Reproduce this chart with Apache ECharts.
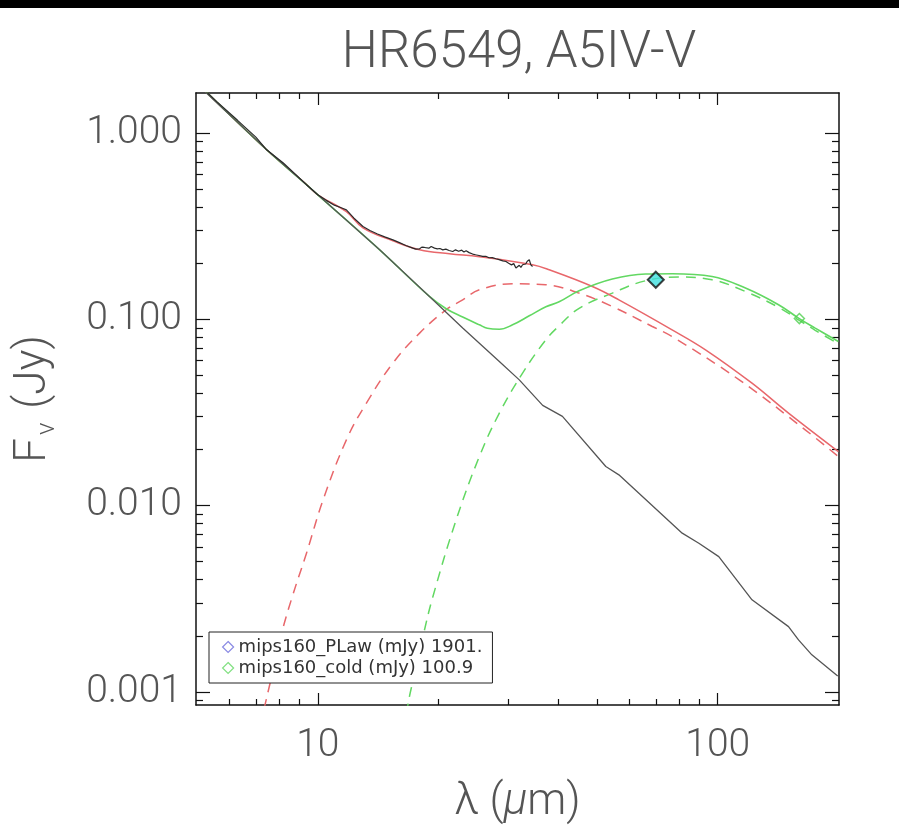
<!DOCTYPE html>
<html>
<head>
<meta charset="utf-8">
<script src="https://cdn.jsdelivr.net/npm/echarts@6/dist/echarts.min.js"></script>
<style>
html,body{margin:0;padding:0;background:#fff;}
#chart{width:899px;height:840px;}
</style>
</head>
<body>
<div id="chart"></div>
<script>
// ---------------- data ----------------
const titleText = 'HR6549, A5IV-V';
const xMajorTicks = [10, 100];
const xMinorTicks = [6, 7, 8, 9, 20, 30, 40, 50, 60, 70, 80, 90];
const yMajorTicks = [0.001, 0.01, 0.1, 1];
const yMinorTicks = [0.0009, 0.002, 0.003, 0.004, 0.005, 0.006, 0.007, 0.008, 0.009,
  0.02, 0.03, 0.04, 0.05, 0.06, 0.07, 0.08, 0.09, 0.2, 0.3, 0.4, 0.5, 0.6, 0.7, 0.8, 0.9];

// stellar photosphere
const photLam  = [5, 5.26, 7.45, 9.37, 10, 14.28, 19.02, 23.03, 28.44, 31.9, 36.5, 40.9, 52.5, 56.6, 81.5, 89.7, 100.6, 121.8, 150.3, 159.2, 171.9, 199.5];
const photFlux = [1.85, 1.646, 0.813, 0.528, 0.466, 0.236, 0.1326, 0.0897, 0.0593, 0.0473, 0.0345, 0.0301, 0.0162, 0.01462, 0.00711, 0.00628, 0.00532, 0.00312, 0.00224, 0.0019, 0.00158, 0.001217];

// observed spectrum
const irsLam  = [5.0, 5.6, 6.3, 7.0, 7.45, 8.2, 8.8, 9.37, 10.0, 10.5, 11.0, 11.4, 11.79, 12.3, 12.97, 13.5, 14.1, 14.7, 15.41, 16.0, 16.6, 17.29, 17.6, 17.97, 18.2, 18.49, 18.7, 18.95, 19.21, 19.4, 19.58, 19.9, 20.2, 20.54, 20.9, 21.3, 21.75, 22.1, 22.5, 22.9, 23.2, 23.49, 23.9, 24.39, 24.8, 25.3, 25.84, 26.3, 26.8, 27.3, 27.9, 28.4, 29.0, 29.55, 30.0, 30.5, 30.9, 31.29, 31.6, 31.9, 32.2, 32.51, 32.8, 33.1, 33.4, 33.79, 34.1, 34.43];
const irsFlux = [1.85, 1.47, 1.17, 0.95, 0.813, 0.69, 0.60, 0.528, 0.466, 0.435, 0.41, 0.398, 0.387, 0.35, 0.315, 0.30, 0.287, 0.277, 0.267, 0.258, 0.249, 0.241, 0.238, 0.239, 0.244, 0.243, 0.247, 0.241, 0.246, 0.243, 0.241, 0.239, 0.240, 0.236, 0.238, 0.234, 0.2312, 0.236, 0.232, 0.235, 0.230, 0.2332, 0.228, 0.224, 0.222, 0.220, 0.2175, 0.218, 0.214, 0.2145, 0.2113, 0.209, 0.206, 0.2043, 0.200, 0.196, 0.199, 0.1884, 0.193, 0.195, 0.190, 0.1962, 0.194, 0.198, 0.205, 0.2087, 0.196, 0.1921];

// photosphere + warm (power-law) component
const redLam  = [5, 7.45, 9.37, 10, 11.79, 12.97, 15.41, 17.97, 21.34, 25.35, 34.43, 37.9, 48.6, 56.6, 76.9, 93.2, 121.8, 150.3, 200.3];
const redFlux = [1.85, 0.813, 0.53, 0.466, 0.378, 0.31, 0.264, 0.236, 0.2247, 0.2167, 0.1962, 0.1844, 0.150, 0.1272, 0.0878, 0.0686, 0.0454, 0.03135, 0.0195];
// warm component alone
const rdLam  = [7.2, 7.38, 7.59, 8.088, 8.614, 9.37, 10.31, 11.79, 13.23, 15.41, 17.97, 20.94, 23.03, 25.35, 30.69, 37.18, 45.02, 54.5, 68.6, 76.9, 113.2, 165.5, 200.3];
const rdFlux = [0.00066, 0.000851, 0.001102, 0.001997, 0.003194, 0.00555, 0.01073, 0.02254, 0.0355, 0.0582, 0.0843, 0.1125, 0.1272, 0.144, 0.155, 0.1532, 0.1382, 0.1171, 0.0915, 0.0808, 0.0473, 0.0255, 0.01833];

// photosphere + cold component
const gsLam  = [5, 7.45, 9.37, 10, 14.28, 19.02, 20.94, 23.03, 25.35, 26.54, 28.44, 30.69, 33.79, 37.18, 40.13, 45.02, 54.5, 66.0, 76.9, 96.8, 117.3, 141.9, 159.2, 175.3, 200.3];
const gsFlux = [1.85, 0.813, 0.528, 0.466, 0.236, 0.1326, 0.1139, 0.1028, 0.0934, 0.0895, 0.0884, 0.0934, 0.1044, 0.1167, 0.1241, 0.1422, 0.1644, 0.1749, 0.1755, 0.1698, 0.1471, 0.1197, 0.1015, 0.0897, 0.076];
// cold component alone
const gdLam  = [16.5, 16.8, 17.29, 18.31, 19.39, 22.18, 25.35, 28.44, 32.51, 37.18, 40.13, 45.02, 54.5, 66.0, 79.9, 96.8, 117.3, 141.9, 159.2, 175.3, 200.3];
const gdFlux = [0.00062, 0.000851, 0.001144, 0.001971, 0.003233, 0.00838, 0.01833, 0.03135, 0.0514, 0.0776, 0.0923, 0.1146, 0.1382, 0.161, 0.1685, 0.163, 0.141, 0.116, 0.0994, 0.0873, 0.0738];

// photometry
const mips70Point = [70, 0.163];
const legendNames  = ['mips160_PLaw', 'mips160_cold'];
const legendUnit   = '(mJy)';
const legendValues = ['1901.', '100.9'];
const mips160PLawPoint = [160, 1.901];
const mips160ColdPoint = [160, 0.1009];

// ---------------- chart ----------------
const zip = (a, b) => a.map((v, i) => [v, b[i]]);
const FONT = "Roboto, 'DejaVu Sans', sans-serif";
const FW = 300;
const TXT = '#555';
const RED = '#e8676b';
const GREEN = '#62d862';
const X_MIN = 4.96, X_MAX = 201, Y_MIN = 0.00085, Y_MAX = 1.64;
const frame = { show: true, onZero: false, lineStyle: { color: '#111', width: 1.5 } };
const tickStyle = { color: '#111', width: 1.2 };

function xAxisDef(pos, ticks, len, showLine) {
  return {
    type: 'log', logBase: 10, min: X_MIN, max: X_MAX, position: pos,
    axisLine: showLine ? frame : { show: false },
    axisTick: { show: true, inside: true, length: len, customValues: ticks, lineStyle: tickStyle },
    axisLabel: { show: false },
    splitLine: { show: false }, minorTick: { show: false }
  };
}
function yAxisDef(pos, ticks, len, showLine) {
  return {
    type: 'log', logBase: 10, min: Y_MIN, max: Y_MAX, position: pos,
    axisLine: showLine ? frame : { show: false },
    axisTick: { show: true, inside: true, length: len, customValues: ticks, lineStyle: tickStyle },
    axisLabel: { show: false },
    splitLine: { show: false }, minorTick: { show: false }
  };
}

const xBottom = xAxisDef('bottom', xMajorTicks, 12, true);
xBottom.axisLabel = {
  show: true, customValues: xMajorTicks, margin: 22,
  fontFamily: FONT, fontSize: 39, fontWeight: FW, color: TXT,
  formatter: v => String(Math.round(v))
};
xBottom.name = '{a|λ (}{b|μ}{a|m)}';
xBottom.nameLocation = 'middle';
xBottom.nameGap = 76;
xBottom.nameTextStyle = {
  rich: {
    a: { fontFamily: FONT, fontSize: 44, fontWeight: FW, color: TXT },
    b: { fontFamily: FONT, fontSize: 44, fontWeight: FW, fontStyle: 'italic', color: TXT }
  }
};

const yLeft = yAxisDef('left', yMajorTicks, 14, true);
yLeft.axisLabel = {
  show: true, customValues: yMajorTicks, margin: 14,
  fontFamily: FONT, fontSize: 39, fontWeight: FW, color: TXT,
  formatter: v => v.toFixed(3)
};
yLeft.name = '{a|F}{b|ν}{a| (Jy)}';
yLeft.nameLocation = 'middle';
yLeft.nameGap = 136;
yLeft.nameRotate = 90;
yLeft.nameTextStyle = {
  rich: {
    a: { fontFamily: FONT, fontSize: 44, fontWeight: FW, color: TXT },
    b: { fontFamily: FONT, fontSize: 26, fontWeight: FW, color: TXT, padding: [26, 3, 0, 3] }
  }
};

const option = {
  backgroundColor: '#ffffff',
  animation: false,
  title: {
    text: titleText, left: 514, top: 24, textAlign: 'center',
    textStyle: { fontFamily: FONT, fontSize: 51, fontWeight: FW, color: '#555' }
  },
  graphic: [{ type: 'rect', left: 0, top: 0, shape: { width: 899, height: 8 }, style: { fill: '#000' } }],
  grid: { left: 196, top: 93, right: 60, bottom: 135, containLabel: false },
  legend: {
    orient: 'vertical', left: 209, top: 632,
    padding: [6, 10, 6, 13], itemGap: 3, itemWidth: 11, itemHeight: 11,
    borderColor: '#222', borderWidth: 1, backgroundColor: '#fff',
    selectedMode: false,
    textStyle: { fontFamily: "'DejaVu Sans'", fontSize: 18, color: '#333', lineHeight: 18 },
    formatter: name => name + ' ' + legendUnit + ' ' + legendValues[legendNames.indexOf(name)],
    data: [
      { name: legendNames[0], icon: 'diamond', itemStyle: { color: 'rgba(0,0,0,0)', borderColor: '#6b6bdc', borderWidth: 1.2 } },
      { name: legendNames[1], icon: 'diamond', itemStyle: { color: 'rgba(0,0,0,0)', borderColor: '#62d862', borderWidth: 1.2 } }
    ]
  },
  xAxis: [
    xBottom,
    xAxisDef('bottom', xMinorTicks, 6, false),
    xAxisDef('top', xMajorTicks, 12, true),
    xAxisDef('top', xMinorTicks, 6, false)
  ],
  yAxis: [
    yLeft,
    yAxisDef('left', yMinorTicks, 7, false),
    yAxisDef('right', yMajorTicks, 14, true),
    yAxisDef('right', yMinorTicks, 7, false)
  ],
  series: [
    { name: 'warm', type: 'line', data: zip(rdLam, rdFlux), showSymbol: false, smooth: 0.4, clip: true,
      lineStyle: { color: RED, width: 1.5, type: [10, 7] } },
    { name: 'cold', type: 'line', data: zip(gdLam, gdFlux), showSymbol: false, smooth: 0.4, clip: true,
      lineStyle: { color: GREEN, width: 1.5, type: [10, 7] } },
    { name: 'phot+warm', type: 'line', data: zip(redLam, redFlux), showSymbol: false, smooth: 0.4, clip: true,
      lineStyle: { color: RED, width: 1.5 } },
    { name: 'phot+cold', type: 'line', data: zip(gsLam, gsFlux), showSymbol: false, smooth: 0.4, clip: true,
      lineStyle: { color: GREEN, width: 1.6 } },
    { name: 'photosphere', type: 'line', data: zip(photLam, photFlux), showSymbol: false, clip: true,
      lineStyle: { color: '#555', width: 1.3 } },
    { name: 'spectrum', type: 'line', data: zip(irsLam, irsFlux), showSymbol: false, clip: true,
      lineStyle: { color: '#2a2a2a', width: 1.2 } },
    { name: 'mips70', type: 'scatter', data: [mips70Point], symbol: 'diamond', symbolSize: 16, clip: true,
      itemStyle: { color: '#3fdede', borderColor: '#111', borderWidth: 2 }, z: 5 },
    { name: legendNames[0], type: 'scatter', data: [mips160PLawPoint], symbol: 'diamond', symbolSize: 10, clip: true,
      itemStyle: { color: 'rgba(0,0,0,0)', borderColor: '#6b6bdc', borderWidth: 1.5 }, z: 5 },
    { name: legendNames[1], type: 'scatter', data: [mips160ColdPoint], symbol: 'diamond', symbolSize: 10, clip: true,
      itemStyle: { color: 'rgba(0,0,0,0)', borderColor: '#4fd04f', borderWidth: 1.5 }, z: 5 }
  ]
};
const chart = echarts.init(document.getElementById('chart'), null, { renderer: 'canvas' });
chart.setOption(option);
</script>
</body>
</html>
